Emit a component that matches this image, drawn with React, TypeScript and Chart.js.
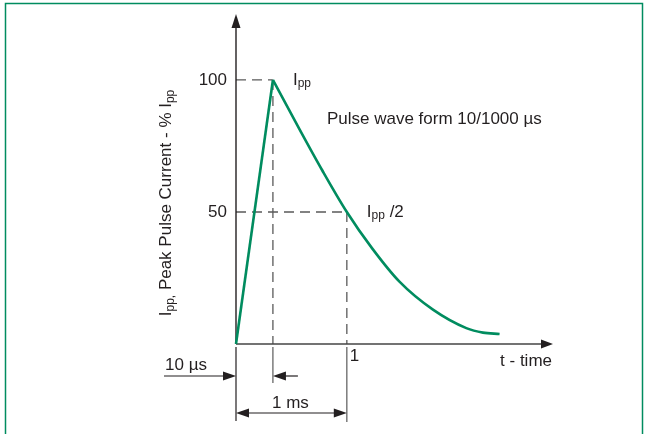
import { useEffect, useRef } from 'react';
import { Chart, registerables } from 'chart.js';

Chart.register(...registerables);

// ---- data (x in ms-like relative units, y in % of Ipp) ----
const riseX = [0, 0.333];
const riseY = [0, 100];
const decayX = [0.333, 0.577, 0.775, 1.0, 1.225, 1.477, 1.777, 2.078, 2.228, 2.378];
const decayY = [100, 81, 66, 50, 36.4, 23.5, 13.0, 6.0, 4.3, 3.8];

const yTickValues = [50, 100];
const yTickLabels = ['50', '100'];
const xTickValues = [1];
const xTickLabels = ['1'];

const PEAK_X = 0.333;
const PEAK_Y = 100;
const HALF_X = 1.0;
const HALF_Y = 50;
const X_MAX = 2.86;
const Y_MAX = 124.6;

const waveTitle = 'Pulse wave form 10/1000 µs';
const xAxisLabel = 't - time';
const riseLabel = '10 µs';
const durationLabel = '1 ms';
const peakLabel = ['I', 'pp', ''];
const halfLabel = ['I', 'pp', ' /2'];

const GREEN = '#008c5f';
const INK = '#231f20';
const GRAY = '#5a5a5a';
const FONT = '"Liberation Sans", Arial, Helvetica, sans-serif';
const FS = 17;
const SUB = 12;

function arrowHead(ctx: CanvasRenderingContext2D, tx: number, ty: number, dx: number, dy: number, len = 13, half = 4.5) {
  const bx = tx - dx * len;
  const by = ty - dy * len;
  const nx = -dy, ny = dx;
  ctx.beginPath();
  ctx.moveTo(tx, ty);
  ctx.lineTo(bx + nx * half, by + ny * half);
  ctx.lineTo(bx - nx * half, by - ny * half);
  ctx.closePath();
  ctx.fill();
}

function line(ctx: CanvasRenderingContext2D, x1: number, y1: number, x2: number, y2: number) {
  ctx.beginPath();
  ctx.moveTo(x1, y1);
  ctx.lineTo(x2, y2);
  ctx.stroke();
}

function subText(ctx: CanvasRenderingContext2D, parts: string[], x: number, y: number) {
  ctx.textAlign = 'left';
  ctx.textBaseline = 'alphabetic';
  ctx.font = `${FS}px ${FONT}`;
  ctx.fillText(parts[0], x, y);
  let cx = x + ctx.measureText(parts[0]).width;
  ctx.font = `${SUB}px ${FONT}`;
  ctx.fillText(parts[1], cx, y + 2.5);
  cx += ctx.measureText(parts[1]).width;
  ctx.font = `${FS}px ${FONT}`;
  ctx.fillText(parts[2], cx, y);
}

const decoPlugin = {
  id: 'deco',
  beforeDatasetsDraw(chart: any) {
    const ctx: CanvasRenderingContext2D = chart.ctx;
    const xs = chart.scales.x, ys = chart.scales.y;
    const x0 = xs.getPixelForValue(0), y0 = ys.getPixelForValue(0);
    const xEnd = xs.getPixelForValue(X_MAX), yTop = ys.getPixelForValue(Y_MAX);
    const pX = xs.getPixelForValue(PEAK_X), pY = ys.getPixelForValue(PEAK_Y);
    const hX = xs.getPixelForValue(HALF_X), hY = ys.getPixelForValue(HALF_Y);
    ctx.save();
    // green frame
    ctx.strokeStyle = GREEN;
    ctx.lineWidth = 1.5;
    ctx.strokeRect(5.5, 3.5, 637, 460);

    // dashed guides
    ctx.strokeStyle = GRAY;
    ctx.lineWidth = 1.3;
    ctx.setLineDash([10, 6]);
    line(ctx, x0, pY, pX, pY);
    line(ctx, pX, pY, pX, y0);
    line(ctx, x0, hY, hX, hY);
    line(ctx, hX, hY, hX, y0);
    ctx.setLineDash([]);

    // axes
    ctx.strokeStyle = INK;
    ctx.fillStyle = INK;
    ctx.lineWidth = 1.4;
    line(ctx, x0, y0, x0, yTop + 10);
    arrowHead(ctx, x0, yTop - 1, 0, -1, 14, 4.5);
    ctx.strokeStyle = '#444';
    line(ctx, x0, y0, xEnd - 8, y0);
    ctx.fillStyle = INK;
    arrowHead(ctx, xEnd, y0, 1, 0, 12, 4.5);
    ctx.restore();
  },
  afterDraw(chart: any) {
    const ctx: CanvasRenderingContext2D = chart.ctx;
    const xs = chart.scales.x, ys = chart.scales.y;
    const x0 = xs.getPixelForValue(0), y0 = ys.getPixelForValue(0);
    const xEnd = xs.getPixelForValue(X_MAX);
    const pX = xs.getPixelForValue(PEAK_X), pY = ys.getPixelForValue(PEAK_Y);
    const hX = xs.getPixelForValue(HALF_X), hY = ys.getPixelForValue(HALF_Y);
    ctx.save();
    ctx.fillStyle = INK;

    // y tick labels
    ctx.font = `${FS}px ${FONT}`;
    ctx.textAlign = 'right';
    ctx.textBaseline = 'alphabetic';
    yTickValues.forEach((v, i) => {
      ctx.fillText(yTickLabels[i], x0 - 9, ys.getPixelForValue(v) + 5.5);
    });
    // x tick labels
    ctx.textAlign = 'left';
    xTickValues.forEach((v, i) => {
      ctx.fillText(xTickLabels[i], xs.getPixelForValue(v) + 3, y0 + 17);
    });

    // x axis label
    ctx.textAlign = 'right';
    ctx.fillText(xAxisLabel, xEnd - 1, y0 + 22);

    // wave title
    ctx.textAlign = 'left';
    ctx.fillText(waveTitle, pX + 54, pY + 44);

    // Ipp labels
    subText(ctx, peakLabel, pX + 20, pY + 5);
    subText(ctx, halfLabel, hX + 20, hY + 5);

    // rotated y title
    ctx.save();
    ctx.translate(171, (pY + y0) / 2 - 9);
    ctx.rotate(-Math.PI / 2);
    const parts: [string, number, number][] = [
      ['I', FS, 0], ['pp,', SUB, 2.5], [' Peak Pulse Current - % ', FS, 0], ['I', FS, 0], ['pp', SUB, 2.5],
    ];
    let total = 0;
    parts.forEach(([t, s]) => { ctx.font = `${s}px ${FONT}`; total += ctx.measureText(t).width; });
    let cx = -total / 2;
    ctx.textAlign = 'left';
    parts.forEach(([t, s, off]) => {
      ctx.font = `${s}px ${FONT}`;
      ctx.fillText(t, cx, off);
      cx += ctx.measureText(t).width;
    });
    ctx.restore();

    // dimension extension lines
    ctx.lineWidth = 1.2;
    ctx.strokeStyle = INK;
    line(ctx, x0, y0 + 3, x0, y0 + 77);
    ctx.strokeStyle = GRAY;
    line(ctx, pX, y0 + 3, pX, y0 + 39);
    line(ctx, hX, y0 + 3, hX, y0 + 78);

    // 10 µs dimension
    ctx.strokeStyle = INK;
    const dy1 = y0 + 32;
    line(ctx, x0 - 72, dy1, x0 - 10, dy1);
    arrowHead(ctx, x0, dy1, 1, 0, 13, 4.5);
    line(ctx, pX + 10, dy1, pX + 25, dy1);
    arrowHead(ctx, pX, dy1, -1, 0, 13, 4.5);
    ctx.font = `${FS}px ${FONT}`;
    ctx.textAlign = 'left';
    ctx.fillText(riseLabel, x0 - 71, y0 + 26);

    // 1 ms dimension
    const dy2 = y0 + 69;
    line(ctx, x0 + 10, dy2, hX - 10, dy2);
    arrowHead(ctx, x0, dy2, -1, 0, 13, 4.5);
    arrowHead(ctx, hX, dy2, 1, 0, 13, 4.5);
    ctx.textAlign = 'center';
    ctx.fillText(durationLabel, (x0 + hX) / 2 - 1, y0 + 64);

    ctx.restore();
  },
};

export default function App() {
  const ref = useRef<HTMLCanvasElement>(null);
  useEffect(() => {
    if (!ref.current) return;
    const chart = new Chart(ref.current, {
      type: 'line',
      data: {
        datasets: [
          {
            data: riseX.map((x, i) => ({ x, y: riseY[i] })),
            borderColor: GREEN,
            borderWidth: 2.6,
            pointRadius: 0,
            tension: 0,
            clip: false as any,
          },
          {
            data: decayX.map((x, i) => ({ x, y: decayY[i] })),
            borderColor: GREEN,
            borderWidth: 2.6,
            pointRadius: 0,
            cubicInterpolationMode: 'monotone',
            clip: false as any,
          },
        ],
      },
      options: {
        animation: false,
        responsive: false,
        layout: { padding: { left: 236, right: 93, top: 15, bottom: 90 } },
        plugins: { legend: { display: false }, tooltip: { enabled: false } },
        scales: {
          x: { type: 'linear', min: 0, max: X_MAX, display: false },
          y: { type: 'linear', min: 0, max: Y_MAX, display: false },
        },
      },
      plugins: [decoPlugin],
    });
    return () => chart.destroy();
  }, []);
  return (
    <div style={{ position: 'fixed', left: 0, top: 0, width: 646, height: 434, background: '#fff' }}>
      <canvas ref={ref} width={646} height={434} style={{ display: 'block' }} />
    </div>
  );
}
